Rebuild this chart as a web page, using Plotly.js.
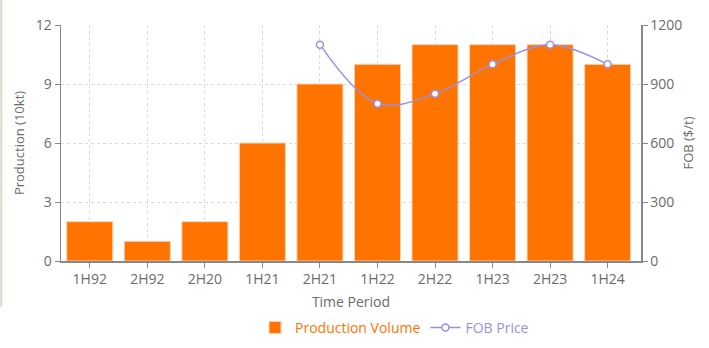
<!DOCTYPE html>
<html><head><meta charset="utf-8">
<script src="https://cdn.plot.ly/plotly-3.0.1.min.js"></script>
<style>html,body{margin:0;padding:0;background:#fff;}#c{width:709px;height:348px;}</style>
</head><body><div id="c"></div>
<script>
const categories = ['1H92','2H92','2H20','1H21','2H21','1H22','2H22','1H23','2H23','1H24'];
const productionVolume = [2,1,2,6,9,10,11,11,11,10];
const fobCategories = ['2H21','1H22','2H22','1H23','2H23','1H24'];
const fobPrice = [1100,800,850,1000,1100,1000];

const orange = '#FF7300';
const purple = '#9A90E0';
const gray = '#6b6b6b';

const traces = [
  {type:'bar', x:categories, y:productionVolume, name:'<span style="color:'+orange+'">Production Volume</span>',
   marker:{color:orange, line:{color:'#FFD2B0', width:1}}, width:0.8, yaxis:'y'},
  {type:'scatter', mode:'lines+markers', x:fobCategories, y:fobPrice, name:'<span style="color:'+purple+'">FOB Price</span>',
   line:{color:purple, width:1.5, shape:'spline'},
   marker:{color:'#fff', size:7, line:{color:purple, width:1.5}}, yaxis:'y2'}
];

const layout = {
  width:709, height:348,
  margin:{l:61, r:68, t:25, b:87, autoexpand:false},
  paper_bgcolor:'#fff', plot_bgcolor:'#fff',
  font:{family:'"Open Sans", "Noto Sans", sans-serif', size:13, color:gray},
  showlegend:true,
  legend:{orientation:'h', x:0.575, xanchor:'center', xref:'paper', yref:'container', y:0.058, yanchor:'middle', font:{size:14}, itemwidth:30},
  shapes:[{type:'line', xref:'paper', yref:'paper', x0:-0.103, x1:-0.103, y0:-0.195, y1:1.106,
    line:{color:'#dcd8cc', width:2}}],
  xaxis:{type:'category', categoryorder:'array', categoryarray:categories,
    showline:true, linecolor:'#888', linewidth:1.5, ticks:'outside', ticklen:5, tickcolor:'#888',
    showgrid:true, gridcolor:'#d9d9d9', griddash:'dot', gridwidth:1,
    tickfont:{size:14, color:gray},
    title:{text:'Time Period', font:{size:14, color:gray}, standoff:10}, zeroline:false},
  yaxis:{range:[0,12], tickvals:[0,3,6,9,12], showline:true, linecolor:'#888', linewidth:1.5,
    ticks:'outside', ticklen:5, tickcolor:'#888',
    showgrid:true, gridcolor:'#d9d9d9', griddash:'dot', gridwidth:1, zeroline:false,
    tickfont:{size:14, color:gray},
    title:{text:'Production (10kt)', font:{size:13, color:gray}, standoff:8}},
  yaxis2:{range:[0,1200], tickvals:[0,300,600,900,1200], overlaying:'y', side:'right',
    showline:true, linecolor:'#888', linewidth:1.5, ticks:'outside', ticklen:5, tickcolor:'#888',
    showgrid:false, zeroline:false, tickfont:{size:14, color:gray},
    title:{text:'FOB ($/t)', font:{size:13, color:gray}, standoff:2}}
};

Plotly.newPlot('c', traces, layout, {displayModeBar:false, staticPlot:true});
</script>
</body></html>
